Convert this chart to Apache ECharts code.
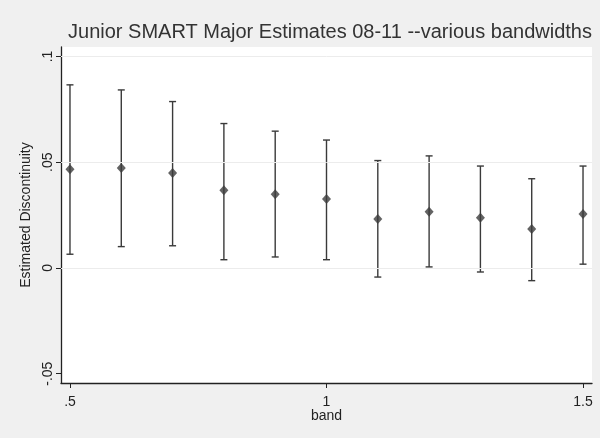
<!DOCTYPE html>
<html>
<head>
<meta charset="utf-8">
<script src="https://cdn.jsdelivr.net/npm/echarts@6/dist/echarts.min.js"></script>
<style>
  html, body { margin: 0; padding: 0; background: #f0f0f0; }
  #chart { width: 600px; height: 438px; }
</style>
</head>
<body>
<div id="chart"></div>
<script>
// Bandwidths and RD estimates with 95% confidence bounds
const bands = [0.5, 0.6, 0.7, 0.8, 0.9, 1.0, 1.1, 1.2, 1.3, 1.4, 1.5];
const estimates = [0.0467, 0.0473, 0.0449, 0.0368, 0.0349, 0.0326, 0.0232, 0.0266, 0.0238, 0.0184, 0.0255];
const upperCI = [0.0866, 0.0842, 0.0787, 0.0683, 0.0647, 0.0605, 0.0508, 0.0530, 0.0482, 0.0422, 0.0482];
const lowerCI = [0.0065, 0.0101, 0.0105, 0.0039, 0.0052, 0.0039, -0.0043, 0.0005, -0.0019, -0.0060, 0.0018];

// Axis ticks and gridlines
const xTicks = [0.5, 1.0, 1.5];
const xTickLabels = ['.5', '1', '1.5'];
const yTicks = [-0.05, 0, 0.05, 0.1];
const yTickLabels = ['-.05', '0', '.05', '.1'];
const yGrid = [0, 0.05, 0.1];

const FONT = '"Liberation Sans", Arial, sans-serif';
const INK = '#3a3a3a';

const fmt = (ticks, labels) => v => {
  const i = ticks.findIndex(t => Math.abs(t - v) < 1e-9);
  return i >= 0 ? labels[i] : '';
};

const chart = echarts.init(document.getElementById('chart'), null, { renderer: 'canvas' });

chart.setOption({
  backgroundColor: '#f0f0f0',
  animation: false,
  title: {
    text: 'Junior SMART Major Estimates 08-11 --various bandwidths',
    left: 325, top: 17, textAlign: 'center',
    textStyle: { fontFamily: FONT, fontSize: 20, fontWeight: 'normal', color: '#333' }
  },
  grid: { left: 61, right: 8, top: 47, bottom: 55, backgroundColor: '#ffffff', show: true, borderWidth: 0 },
  xAxis: {
    type: 'value', min: 0.4825, max: 1.5175,
    name: 'band', nameLocation: 'middle', nameGap: 26, nameMoveOverlap: false,
    nameTextStyle: { fontFamily: FONT, fontSize: 14, color: '#222' },
    axisLine: { show: true, onZero: false, lineStyle: { color: '#222', width: 1.3 } },
    axisTick: { show: true, length: 5, customValues: xTicks, lineStyle: { color: '#222' } },
    axisLabel: { customValues: xTicks, formatter: fmt(xTicks, xTickLabels), margin: 12,
      fontFamily: FONT, fontSize: 14, color: '#222' },
    splitLine: { show: false }
  },
  yAxis: {
    type: 'value', min: -0.0544, max: 0.1045,
    name: 'Estimated Discontinuity', nameLocation: 'middle', nameGap: 22, nameRotate: 90,
    nameTextStyle: { fontFamily: FONT, fontSize: 14, color: '#222' },
    axisLine: { show: true, onZero: false, lineStyle: { color: '#222', width: 1.3 } },
    axisTick: { show: true, length: 5, customValues: yTicks, lineStyle: { color: '#222' } },
    axisLabel: { customValues: yTicks, formatter: fmt(yTicks, yTickLabels), rotate: 90, margin: 6,
      fontFamily: FONT, fontSize: 14, color: '#222' },
    splitLine: { show: false }
  },
  series: [
    {
      // confidence interval whiskers with caps
      type: 'custom',
      data: bands.map((b, i) => [b, lowerCI[i], upperCI[i]]),
      renderItem: (params, api) => {
        const lo = api.coord([api.value(0), api.value(1)]);
        const hi = api.coord([api.value(0), api.value(2)]);
        const cap = 3.5;
        const style = { stroke: INK, lineWidth: 1.4 };
        return {
          type: 'group',
          children: [
            { type: 'line', shape: { x1: lo[0], y1: lo[1], x2: hi[0], y2: hi[1] }, style },
            { type: 'line', shape: { x1: lo[0] - cap, y1: lo[1], x2: lo[0] + cap, y2: lo[1] }, style },
            { type: 'line', shape: { x1: hi[0] - cap, y1: hi[1], x2: hi[0] + cap, y2: hi[1] }, style }
          ]
        };
      },
      z: 2,
      markLine: {
        silent: true, symbol: 'none', label: { show: false },
        lineStyle: { color: '#ececec', width: 1, type: 'solid' },
        data: yGrid.map(v => ({ yAxis: v }))
      }
    },
    {
      type: 'scatter',
      data: bands.map((b, i) => [b, estimates[i]]),
      symbol: 'diamond', symbolSize: [9, 10],
      itemStyle: { color: '#3c3c3c' },
      z: 3
    }
  ]
});
</script>
</body>
</html>
